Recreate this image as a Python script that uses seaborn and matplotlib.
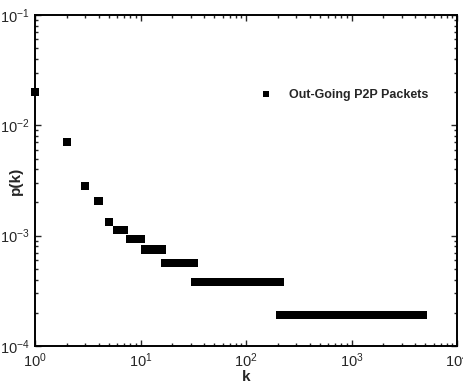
import numpy as np
import pandas as pd
import matplotlib
matplotlib.use("Agg")
import matplotlib.pyplot as plt
import seaborn as sns
from matplotlib.ticker import LogLocator, NullFormatter

# Runs of constant p(k): k from k_start to k_end (inclusive) share p
k_start = [1, 2, 3, 4, 5, 6, 8, 11, 17, 33, 211]
k_end   = [1, 2, 3, 4, 5, 7, 10, 16, 32, 210, 4800]
p_vals  = [0.0200, 0.0070, 0.00283, 0.00208, 0.00132, 0.00113,
           0.00094, 0.00075, 0.00057, 0.00038, 0.00019]
series_name = "Out-Going P2P Packets"

ks, ps = [], []
for a, b, p in zip(k_start, k_end, p_vals):
    kk = np.arange(a, b + 1)
    ks.extend(kk.tolist())
    ps.extend([p] * len(kk))
df = pd.DataFrame({"k": ks, "p(k)": ps, "series": series_name})

sns.set_style("white")
plt.rcParams['font.family'] = ['Liberation Sans', 'DejaVu Sans']
plt.rcParams['mathtext.fontset'] = 'custom'
plt.rcParams['mathtext.rm'] = 'Liberation Sans'
plt.rcParams['mathtext.it'] = 'Liberation Sans:italic'
plt.rcParams['mathtext.bf'] = 'Liberation Sans:bold'

fig = plt.figure(figsize=(4.63, 3.86), dpi=100)
ax = fig.add_axes([35/463, 40/386, (457-35)/463, (346-15)/386])

sns.scatterplot(data=df, x="k", y="p(k)", hue="series", palette=["black"],
                marker="s", s=34, edgecolor="none", linewidth=0, ax=ax,
                clip_on=False, zorder=3)

ax.set_xscale("log")
ax.set_yscale("log")
ax.set_xlim(1, 1e4)
ax.set_ylim(1e-4, 1e-1)

ax.xaxis.set_major_locator(LogLocator(base=10, numticks=10))
ax.yaxis.set_major_locator(LogLocator(base=10, numticks=10))
ax.xaxis.set_minor_locator(LogLocator(base=10, subs=np.arange(2, 10), numticks=20))
ax.yaxis.set_minor_locator(LogLocator(base=10, subs=np.arange(2, 10), numticks=20))
ax.xaxis.set_minor_formatter(NullFormatter())
ax.yaxis.set_minor_formatter(NullFormatter())

ax.tick_params(which="both", direction="in", top=True, right=True,
               bottom=True, left=True, width=1.0)
ax.tick_params(which="major", length=4, labelsize=10.5, pad=4)
ax.tick_params(which="minor", length=2)
for sp in ax.spines.values():
    sp.set_linewidth(1.4)
    sp.set_color("black")

ax.set_xlabel("k", fontsize=11, fontweight="bold", labelpad=0)
ax.set_ylabel("p(k)", fontsize=11, fontweight="bold")
ax.yaxis.set_label_coords(-0.028, 0.5)

leg = ax.legend(loc="upper left", bbox_to_anchor=(0.49, 0.81), frameon=False,
                prop={"weight": "bold", "size": 9}, handletextpad=0.9,
                markerscale=0.8)

fig.savefig("out.png", dpi=100)
